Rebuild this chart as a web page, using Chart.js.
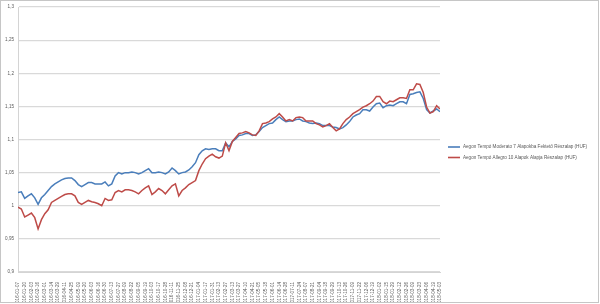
<!DOCTYPE html>
<html>
<head>
<meta charset="utf-8">
<script src="https://cdn.jsdelivr.net/npm/chart.js@4/dist/chart.umd.min.js"></script>
<style>
html,body{margin:0;padding:0;background:#fff;}
#wrap{position:relative;width:600px;height:304px;}
#frame{position:absolute;left:0;top:0;width:599px;height:303px;box-sizing:border-box;border:1px solid #c6c6c6;pointer-events:none;}
</style>
</head>
<body>
<div id="wrap"><canvas id="c" width="600" height="304"></canvas><div id="frame"></div></div>
<script>
const seriesNames = [
  "Aegon Tempó Moderato 7 Alapokba Fektető Részalap (HUF)",
  "Aegon Tempó Allegro 10 Alapok Alapja Részalap (HUF)"
];
const tickLabels = [
  "2016-01-07","2016-01-20","2016-02-03","2016-02-16","2016-03-01","2016-03-14","2016-03-29","2016-04-11",
  "2016-04-25","2016-05-09","2016-05-20","2016-06-03","2016-06-16","2016-06-30","2016-07-13","2016-07-27",
  "2016-08-09","2016-08-22","2016-09-05","2016-09-19","2016-10-03","2016-10-17","2016-10-28","2016-11-11",
  "2016-11-25","2016-12-08","2016-12-21","2017-01-04","2017-01-17","2017-01-31","2017-02-13","2017-02-27",
  "2017-03-13","2017-03-27","2017-04-10","2017-04-21","2017-05-05","2017-05-18","2017-06-01","2017-06-14",
  "2017-06-28","2017-07-11","2017-07-24","2017-08-07","2017-08-21","2017-09-04","2017-09-18","2017-09-29",
  "2017-10-13","2017-10-26","2017-11-09","2017-11-22","2017-12-06","2017-12-19","2018-01-02","2018-01-15",
  "2018-01-29","2018-02-12","2018-02-26","2018-03-09","2018-03-23","2018-04-06","2018-04-19","2018-05-03"
];
const pointsPerTick = 2;
const moderato = [
  1.020,1.021,1.011,1.015,1.018,1.012,1.002,1.012,1.017,1.023,1.029,1.033,1.036,1.039,1.041,1.042,
  1.042,1.038,1.032,1.029,1.032,1.035,1.035,1.033,1.033,1.033,1.036,1.030,1.033,1.045,1.050,1.048,
  1.050,1.050,1.051,1.050,1.048,1.050,1.053,1.056,1.050,1.050,1.051,1.050,1.048,1.051,1.057,1.053,
  1.048,1.050,1.051,1.054,1.059,1.065,1.077,1.083,1.086,1.085,1.086,1.086,1.083,1.083,1.095,1.089,
  1.097,1.101,1.106,1.107,1.109,1.109,1.106,1.107,1.112,1.118,1.121,1.124,1.125,1.130,1.134,1.130,
  1.127,1.128,1.128,1.130,1.131,1.128,1.127,1.125,1.124,1.125,1.124,1.121,1.121,1.121,1.119,1.118,
  1.116,1.118,1.122,1.127,1.134,1.137,1.139,1.145,1.145,1.143,1.149,1.154,1.155,1.148,1.151,1.152,
  1.151,1.154,1.157,1.157,1.154,1.168,1.169,1.171,1.172,1.162,1.145,1.140,1.143,1.146,1.142
];
const allegro = [
  0.998,0.995,0.983,0.986,0.989,0.982,0.965,0.979,0.988,0.994,1.005,1.008,1.011,1.014,1.017,1.018,
  1.018,1.015,1.005,1.002,1.005,1.008,1.006,1.005,1.003,1.000,1.011,1.008,1.009,1.020,1.023,1.021,
  1.024,1.024,1.023,1.021,1.018,1.023,1.027,1.030,1.017,1.021,1.026,1.023,1.018,1.024,1.030,1.033,
  1.015,1.023,1.027,1.032,1.035,1.038,1.053,1.063,1.071,1.075,1.078,1.074,1.072,1.075,1.095,1.083,
  1.097,1.103,1.109,1.110,1.112,1.110,1.107,1.106,1.113,1.124,1.125,1.127,1.131,1.134,1.139,1.134,
  1.128,1.130,1.128,1.133,1.134,1.133,1.128,1.128,1.128,1.124,1.122,1.119,1.121,1.124,1.118,1.113,
  1.116,1.124,1.130,1.134,1.139,1.142,1.145,1.149,1.151,1.154,1.158,1.165,1.165,1.157,1.154,1.158,
  1.157,1.160,1.163,1.163,1.162,1.175,1.175,1.184,1.183,1.171,1.149,1.140,1.142,1.151,1.146
];
const yMin = 0.9, yMax = 1.3, yStep = 0.05;

const colors = ["#4a7ebb", "#be4b48"];
const toXY = arr => arr.map((v, i) => ({x: i, y: v}));
const FONT = "'Liberation Sans', Arial, sans-serif";

const legendPlugin = {
  id: 'customLegend',
  afterDraw(chart) {
    const ctx = chart.ctx;
    const area = chart.chartArea;
    const x0 = area.right + 8;
    const yc = chart.height / 2;
    ctx.save();
    ctx.font = "4.6px " + FONT;
    ctx.fillStyle = "#595959";
    ctx.textBaseline = "middle";
    seriesNames.forEach((name, k) => {
      const y = yc - 5 + k * 10.5;
      ctx.strokeStyle = colors[k];
      ctx.lineWidth = 1.6;
      ctx.beginPath();
      ctx.moveTo(x0, y);
      ctx.lineTo(x0 + 12, y);
      ctx.stroke();
      ctx.fillText(name, x0 + 15, y);
    });
    ctx.restore();
  }
};

new Chart(document.getElementById('c'), {
  type: 'line',
  data: {
    datasets: [
      {label: seriesNames[0], data: toXY(moderato), borderColor: colors[0], borderWidth: 1.5, pointRadius: 0, tension: 0, order: 1},
      {label: seriesNames[1], data: toXY(allegro), borderColor: colors[1], borderWidth: 1.5, pointRadius: 0, tension: 0, order: 0}
    ]
  },
  options: {
    responsive: false,
    animation: false,
    events: [],
    layout: {padding: {left: 0, right: 160, top: 7, bottom: 2}},
    plugins: {legend: {display: false}, tooltip: {enabled: false}},
    scales: {
      x: {
        type: 'linear',
        min: 0,
        max: moderato.length - 1,
        afterBuildTicks(scale) {
          scale.ticks = tickLabels.map((_, k) => ({value: k * pointsPerTick}));
        },
        afterFit(scale) { scale.height = 30; },
        grid: {display: false},
        border: {display: true, color: '#d4d4d4', width: 1},
        ticks: {
          autoSkip: false,
          maxRotation: 90,
          minRotation: 90,
          padding: 2,
          color: '#595959',
          font: {family: FONT, size: 4.6},
          callback: v => tickLabels[Math.round(v / pointsPerTick)]
        }
      },
      y: {
        min: yMin,
        max: yMax,
        afterFit(scale) { scale.width = 18; },
        grid: {color: '#d9d9d9', lineWidth: 1.2, drawTicks: false},
        border: {display: true, color: '#d4d4d4', width: 1},
        ticks: {
          stepSize: yStep,
          padding: 4,
          color: '#595959',
          font: {family: FONT, size: 4.6},
          callback: v => String(Math.round(v * 100) / 100).replace('.', ',')
        }
      }
    }
  },
  plugins: [legendPlugin]
});
</script>
</body>
</html>
